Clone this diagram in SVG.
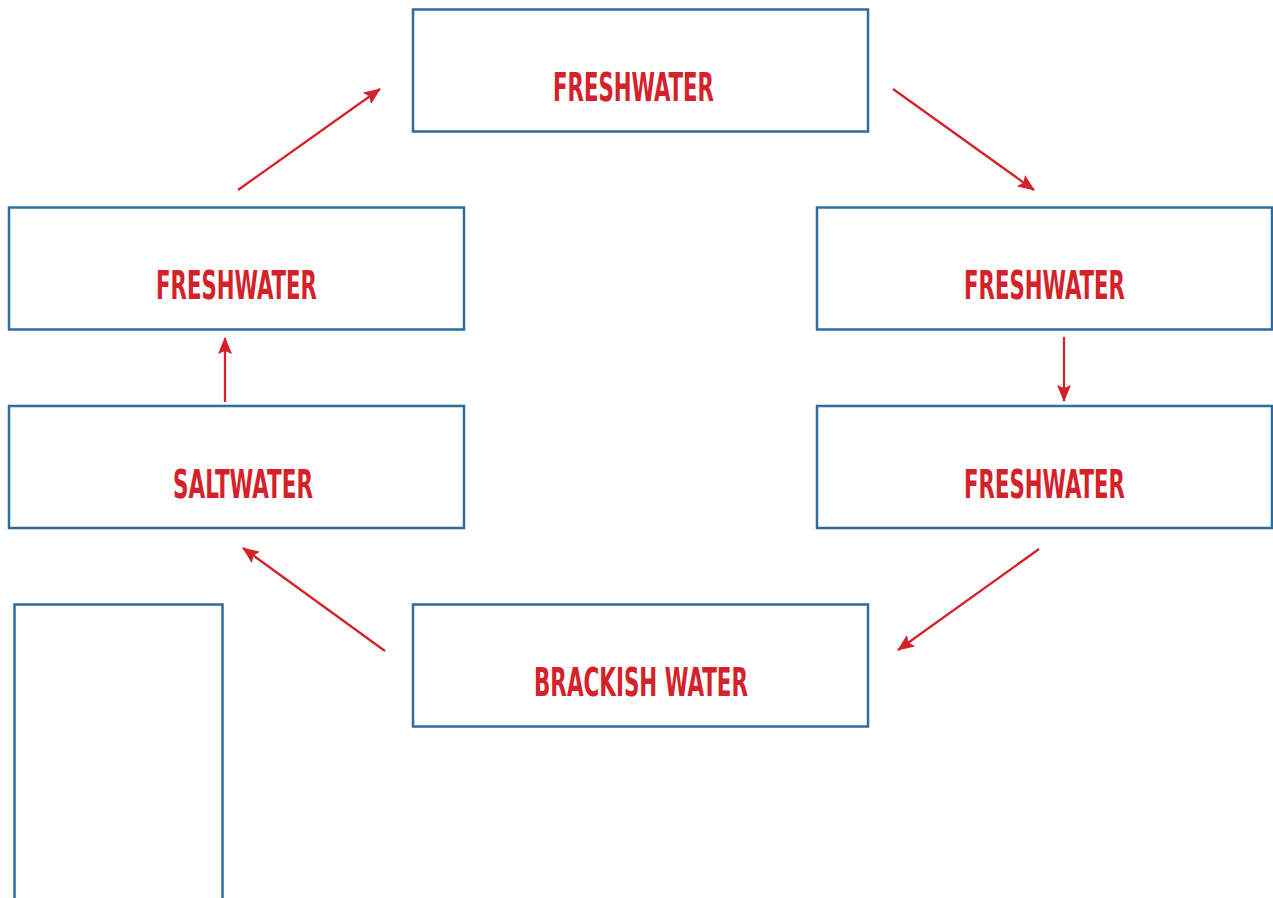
<svg xmlns="http://www.w3.org/2000/svg" width="1273" height="898" viewBox="0 0 1273 898">
<style>
.box{fill:#ffffff;stroke:#2d6e9c;stroke-width:2.5}
.lbl{font-family:"DejaVu Sans Condensed","DejaVu Sans","Liberation Sans",sans-serif;font-stretch:condensed;font-weight:bold;font-size:39px;fill:#d4222b}
.con{stroke:#d4222b;stroke-width:2.3;fill:none;marker-end:url(#ah)}
</style>
<defs>
<marker id="ah" viewBox="0 0 17 14" refX="16" refY="7" markerWidth="17" markerHeight="14" markerUnits="userSpaceOnUse" orient="auto">
<path d="M0,0 L17,7 L0,14 L3,7 Z" fill="#d4222b"/>
</marker>
</defs>
<rect width="1273" height="898" fill="#ffffff"/>
<g id="n-top"><rect class="box" x="413" y="9.5" width="455" height="122"/><text class="lbl" x="553" y="101" textLength="161" lengthAdjust="spacingAndGlyphs">FRESHWATER</text></g>
<g id="n-left1"><rect class="box" x="9" y="207.5" width="455" height="122"/><text class="lbl" x="156" y="299" textLength="161" lengthAdjust="spacingAndGlyphs">FRESHWATER</text></g>
<g id="n-right1"><rect class="box" x="817" y="207.5" width="455" height="122"/><text class="lbl" x="964" y="299" textLength="161" lengthAdjust="spacingAndGlyphs">FRESHWATER</text></g>
<g id="n-salt"><rect class="box" x="9" y="406" width="455" height="122"/><text class="lbl" x="173" y="498" textLength="140" lengthAdjust="spacingAndGlyphs">SALTWATER</text></g>
<g id="n-right2"><rect class="box" x="817" y="406" width="455" height="122"/><text class="lbl" x="964" y="498" textLength="161" lengthAdjust="spacingAndGlyphs">FRESHWATER</text></g>
<g id="n-brackish"><rect class="box" x="413" y="604.5" width="455" height="122"/><text class="lbl" x="534" y="696" textLength="214" lengthAdjust="spacingAndGlyphs">BRACKISH WATER</text></g>
<g id="n-tall"><rect class="box" x="14.5" y="604.5" width="208" height="310"/></g>
<g id="connectors">
<line class="con" x1="238" y1="190" x2="380" y2="89"/>
<line class="con" x1="893" y1="89" x2="1034" y2="190"/>
<line class="con" x1="1064" y1="337" x2="1064" y2="401"/>
<line class="con" x1="1039" y1="549" x2="898" y2="650"/>
<line class="con" x1="385" y1="651" x2="243" y2="548"/>
<line class="con" x1="225" y1="402" x2="225" y2="338"/>
</g>
</svg>
